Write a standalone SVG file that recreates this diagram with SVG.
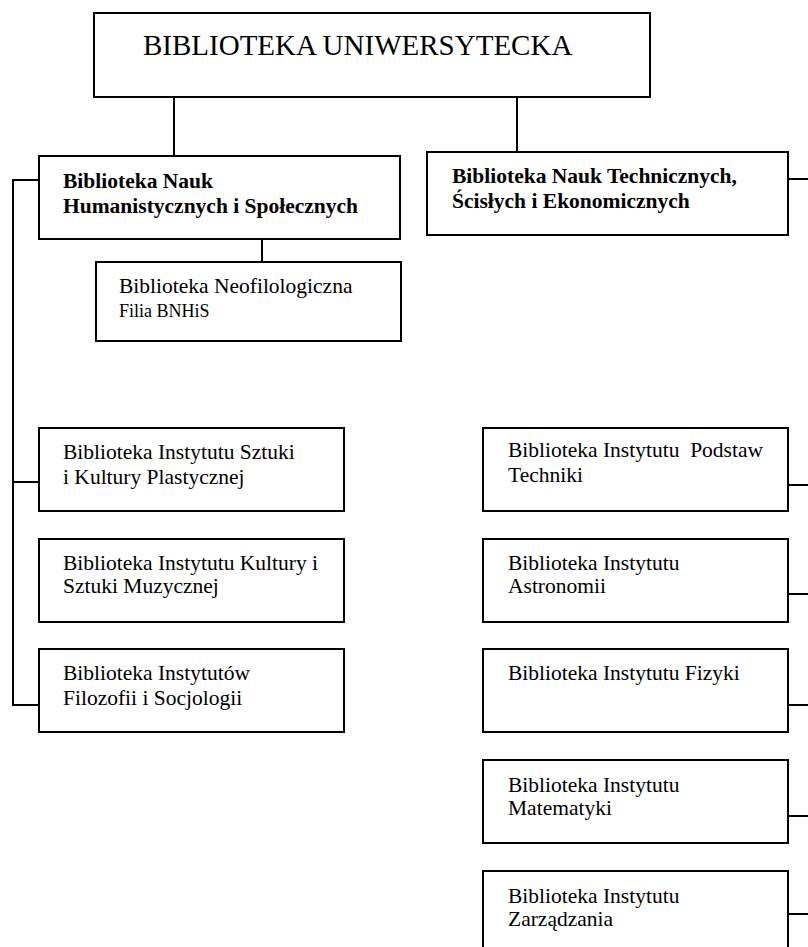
<svg xmlns="http://www.w3.org/2000/svg" width="808" height="947" viewBox="0 0 808 947">
<style>
.box{fill:#fff;stroke:#000;stroke-width:2}
.ln{fill:none;stroke:#000;stroke-width:2}
text{font-family:"Liberation Serif","Times New Roman",serif;fill:#000}
.t{font-size:21.5px}
.b{font-size:21.5px;font-weight:bold}
.s{font-size:18px}
.h{font-size:29px}
</style>
<rect width="808" height="947" fill="#fff"/>
<g id="connectors">
<line class="ln" x1="174" y1="97" x2="174" y2="156"/>
<line class="ln" x1="517" y1="97" x2="517" y2="152"/>
<line class="ln" x1="262" y1="239" x2="262" y2="262"/>
<polyline class="ln" points="39,180 13,180 13,705 39,705"/>
<line class="ln" x1="13" y1="482" x2="39" y2="482"/>
<line class="ln" x1="788" y1="179" x2="808" y2="179"/>
<line class="ln" x1="788" y1="485" x2="808" y2="485"/>
<line class="ln" x1="788" y1="594" x2="808" y2="594"/>
<line class="ln" x1="788" y1="705" x2="808" y2="705"/>
<line class="ln" x1="788" y1="816" x2="808" y2="816"/>
<line class="ln" x1="788" y1="914" x2="808" y2="914"/>
</g>
<g id="root">
<rect class="box" x="94" y="13" width="556" height="84"/>
<text class="h" x="143" y="55">BIBLIOTEKA UNIWERSYTECKA</text>
</g>
<g id="bnhis">
<rect class="box" x="39" y="156" width="361" height="83"/>
<text class="b" x="63" y="188">Biblioteka Nauk</text>
<text class="b" x="63" y="213">Humanistycznych i Społecznych</text>
</g>
<g id="neofil">
<rect class="box" x="96" y="262" width="305" height="79"/>
<text class="t" x="119" y="293">Biblioteka Neofilologiczna</text>
<text class="s" x="119" y="317">Filia BNHiS</text>
</g>
<g id="bntsie">
<rect class="box" x="427" y="152" width="361" height="83"/>
<text class="b" x="452" y="183">Biblioteka Nauk Technicznych,</text>
<text class="b" x="452" y="208">Ścisłych i Ekonomicznych</text>
</g>
<g id="sztuki">
<rect class="box" x="39" y="428" width="305" height="83"/>
<text class="t" x="63" y="459">Biblioteka Instytutu Sztuki</text>
<text class="t" x="63" y="484">i Kultury Plastycznej</text>
</g>
<g id="muzyki">
<rect class="box" x="39" y="539" width="305" height="83"/>
<text class="t" x="63" y="570">Biblioteka Instytutu Kultury i</text>
<text class="t" x="63" y="593">Sztuki Muzycznej</text>
</g>
<g id="filozofii">
<rect class="box" x="39" y="649" width="305" height="83"/>
<text class="t" x="63" y="680">Biblioteka Instytutów</text>
<text class="t" x="63" y="705">Filozofii i Socjologii</text>
</g>
<g id="techniki">
<rect class="box" x="483" y="428" width="305" height="83"/>
<text class="t" x="508" y="457" xml:space="preserve">Biblioteka Instytutu  Podstaw</text>
<text class="t" x="508" y="482">Techniki</text>
</g>
<g id="astronomii">
<rect class="box" x="483" y="539" width="305" height="83"/>
<text class="t" x="508" y="570">Biblioteka Instytutu</text>
<text class="t" x="508" y="593">Astronomii</text>
</g>
<g id="fizyki">
<rect class="box" x="483" y="649" width="305" height="83"/>
<text class="t" x="508" y="680">Biblioteka Instytutu Fizyki</text>
</g>
<g id="matematyki">
<rect class="box" x="483" y="760" width="305" height="83"/>
<text class="t" x="508" y="792">Biblioteka Instytutu</text>
<text class="t" x="508" y="815">Matematyki</text>
</g>
<g id="zarzadzania">
<rect class="box" x="483" y="871" width="305" height="83"/>
<text class="t" x="508" y="903">Biblioteka Instytutu</text>
<text class="t" x="508" y="926">Zarządzania</text>
</g>
</svg>
